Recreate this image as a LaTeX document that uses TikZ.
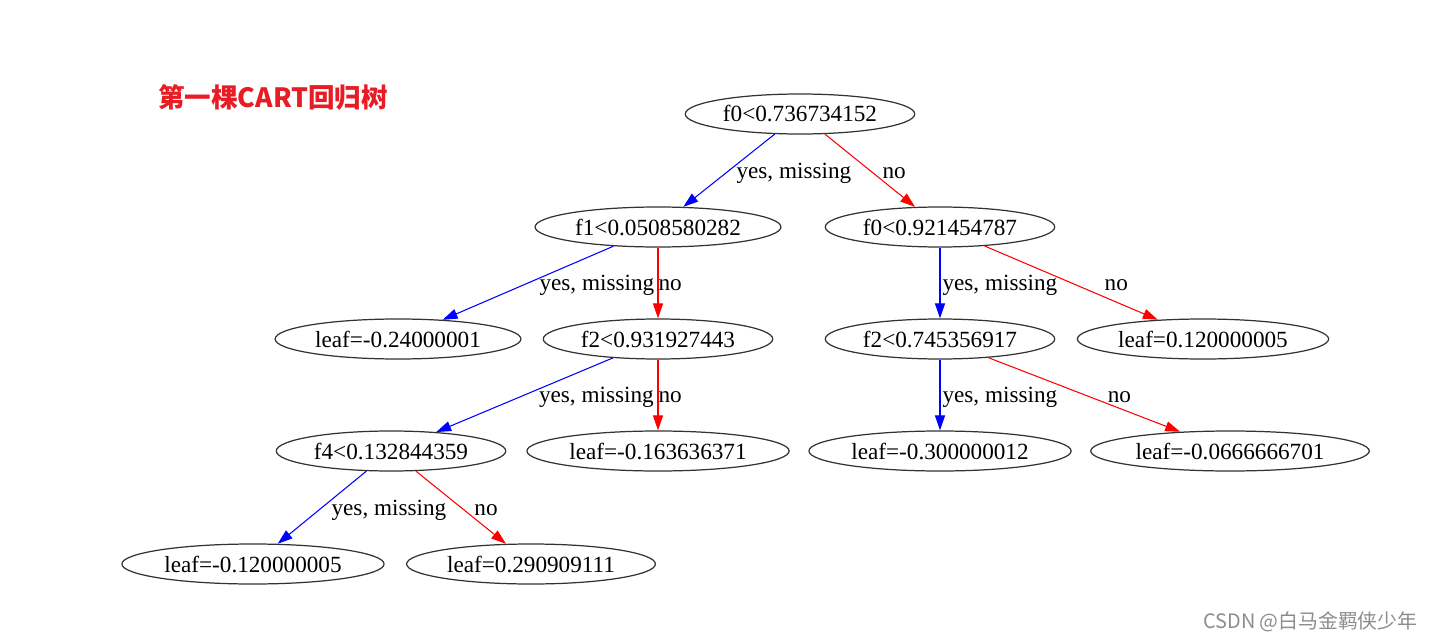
\documentclass[tikz,border=0pt]{standalone}
\usepackage{fontspec}
\setmainfont{Liberation Serif}
\newfontfamily\cjk{Noto Sans CJK SC}
\usepackage{tikz}
\usetikzlibrary{arrows.meta,shapes.geometric}

\definecolor{titlered}{RGB}{232,28,36}
\definecolor{edgeblue}{RGB}{0,0,255}
\definecolor{edgered}{RGB}{255,0,0}

\begin{document}
\begin{tikzpicture}[x=0.02cm, y=-0.02cm,
      nd/.style={draw=black!80, line width=0.7pt, ellipse, minimum height=0.8cm,
        inner xsep=2.3pt, inner ysep=0pt, font=\fontsize{13.2}{15}\selectfont},
      yesedge/.style={draw=edgeblue, line width=0.6pt, -{Triangle[length=8.5pt, width=5.7pt, fill=edgeblue]}},
      noedge/.style={draw=edgered, line width=0.6pt, -{Triangle[length=8.5pt, width=5.7pt, fill=edgered]}},
      lb/.style={font=\fontsize{13.2}{15}\selectfont, anchor=west, inner sep=0pt, yshift=-0.05cm}]
    \useasboundingbox (0,0) rectangle (1430,642);
    % title and watermark
    \node[font=\cjk\bfseries\fontsize{15.1}{18}\selectfont, color=titlered, anchor=west, inner sep=0pt] (title) at (158,97) {第一棵CART回归树};
    \node[font=\cjk\fontsize{11.3}{13}\selectfont, color=black!45, anchor=west, inner sep=0pt] (mark) at (1203,622) {CSDN @白马金羁侠少年};
    % split nodes
    \node[nd] (n0) at (800,114) {f0<0.736734152};
    \node[nd] (n1) at (658,227) {f1<0.0508580282};
    \node[nd] (n2) at (940,227) {f0<0.921454787};
    \node[nd] (n3) at (658,339) {f2<0.931927443};
    \node[nd] (n4) at (940,339) {f2<0.745356917};
    \node[nd] (n5) at (391,451) {f4<0.132844359};
    % leaves
    \node[nd] (l1) at (398,339) {leaf=-0.24000001};
    \node[nd] (l2) at (1203,339) {leaf=0.120000005};
    \node[nd] (l3) at (658,451) {leaf=-0.163636371};
    \node[nd] (l4) at (940,451) {leaf=-0.300000012};
    \node[nd] (l5) at (1230,451) {leaf=-0.0666666701};
    \node[nd] (l6) at (253,564) {leaf=-0.120000005};
    \node[nd] (l7) at (531,564) {leaf=0.290909111};
    % edges
    \draw[yesedge] (n0) -- node[lb, xshift=0.14cm] {yes, missing} (n1);
    \draw[noedge] (n0) -- node[lb, xshift=0.24cm] {no} (n2);
    \draw[yesedge] (n1) -- node[lb, xshift=0.22cm] {yes, missing} (l1);
    \draw[noedge] (n1) -- node[lb] {no} (n3);
    \draw[yesedge] (n2) -- node[lb, xshift=0.04cm] {yes, missing} (n4);
    \draw[noedge] (n2) -- node[lb, xshift=0.66cm] {no} (l2);
    \draw[yesedge] (n3) -- node[lb, xshift=0.28cm] {yes, missing} (n5);
    \draw[noedge] (n3) -- node[lb] {no} (l3);
    \draw[yesedge] (n4) -- node[lb, xshift=0.04cm] {yes, missing} (l4);
    \draw[noedge] (n4) -- node[lb, xshift=0.46cm] {no} (l5);
    \draw[yesedge] (n5) -- node[lb, xshift=0.18cm] {yes, missing} (l6);
    \draw[noedge] (n5) -- node[lb, xshift=0.26cm] {no} (l7);
  \end{tikzpicture}
\end{document}
